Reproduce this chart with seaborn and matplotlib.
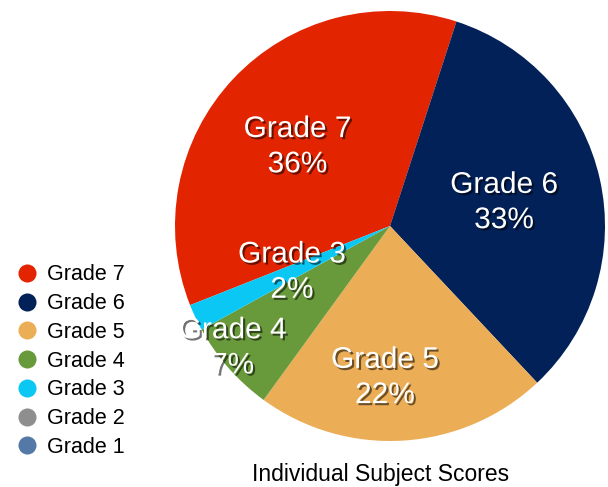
import numpy as np
import matplotlib
matplotlib.use('Agg')
import matplotlib.pyplot as plt
import matplotlib.patheffects as pe
from matplotlib.lines import Line2D
import seaborn as sns

# Datos
grados = ['Grade 7', 'Grade 6', 'Grade 5', 'Grade 4', 'Grade 3', 'Grade 2', 'Grade 1']
porcentajes = [36, 33, 22, 7, 2, 0, 0]
colores_hex = ['#E22400', '#022158', '#EBAE57', '#68993A', '#0BC7F4', '#8E8E8E', '#5479A6']
titulo = 'Individual Subject Scores'

sns.set_theme(style='white')
plt.rcParams['font.family'] = ['Liberation Sans', 'DejaVu Sans']
plt.rcParams['text.color'] = 'black'
colores = sns.color_palette(colores_hex)

fig = plt.figure(figsize=(6.08, 4.87), dpi=100)
ax = fig.add_axes([175 / 608, 46 / 487, 430 / 608, 430 / 487])

# solo las porciones con valor
vals = [v for v in porcentajes if v > 0]
cols = [c for c, v in zip(colores, porcentajes) if v > 0]
noms = [g for g, v in zip(grados, porcentajes) if v > 0]

wedges, _ = ax.pie(vals, colors=cols, startangle=201.6, counterclock=False,
                   wedgeprops=dict(linewidth=0))
ax.set_xlim(-1, 1)
ax.set_ylim(-1, 1)
ax.set_aspect('equal')

# etiquetas dentro de cada porcion (ajuste a ojo)
dist = [0.59, 0.55, 0.67, 0.905, 0.49]
desv = [0, 2.6, -5.6, -5.4, -3.7]
sombra = [pe.SimplePatchShadow(offset=(1.5, -1.5), shadow_rgbFace='black', alpha=0.55),
          pe.Normal()]
for w, nom, v, d, dv in zip(wedges, noms, vals, dist, desv):
    ang = np.deg2rad((w.theta1 + w.theta2) / 2 + dv)
    ax.text(d * np.cos(ang), d * np.sin(ang) - 0.035, f'{nom}\n{v}%', ha='center', va='center',
            color='white', fontsize=21.5, linespacing=1.33, path_effects=sombra)

# leyenda con todos los grados
handles = [Line2D([0], [0], marker='o', linestyle='', markersize=13,
                  markerfacecolor=c, markeredgewidth=0) for c in colores]
fig.legend(handles, grados, loc='upper left', bbox_to_anchor=(0.003, 0.475),
           frameon=False, fontsize=15.5, handletextpad=0.2, labelspacing=0.36,
           handlelength=1.5, borderaxespad=0, labelcolor='black')

fig.text(381 / 608, 1 - 474 / 487, titulo, ha='center', va='center', fontsize=16.5,
         color='black')

plt.savefig('out.png', dpi=100)
